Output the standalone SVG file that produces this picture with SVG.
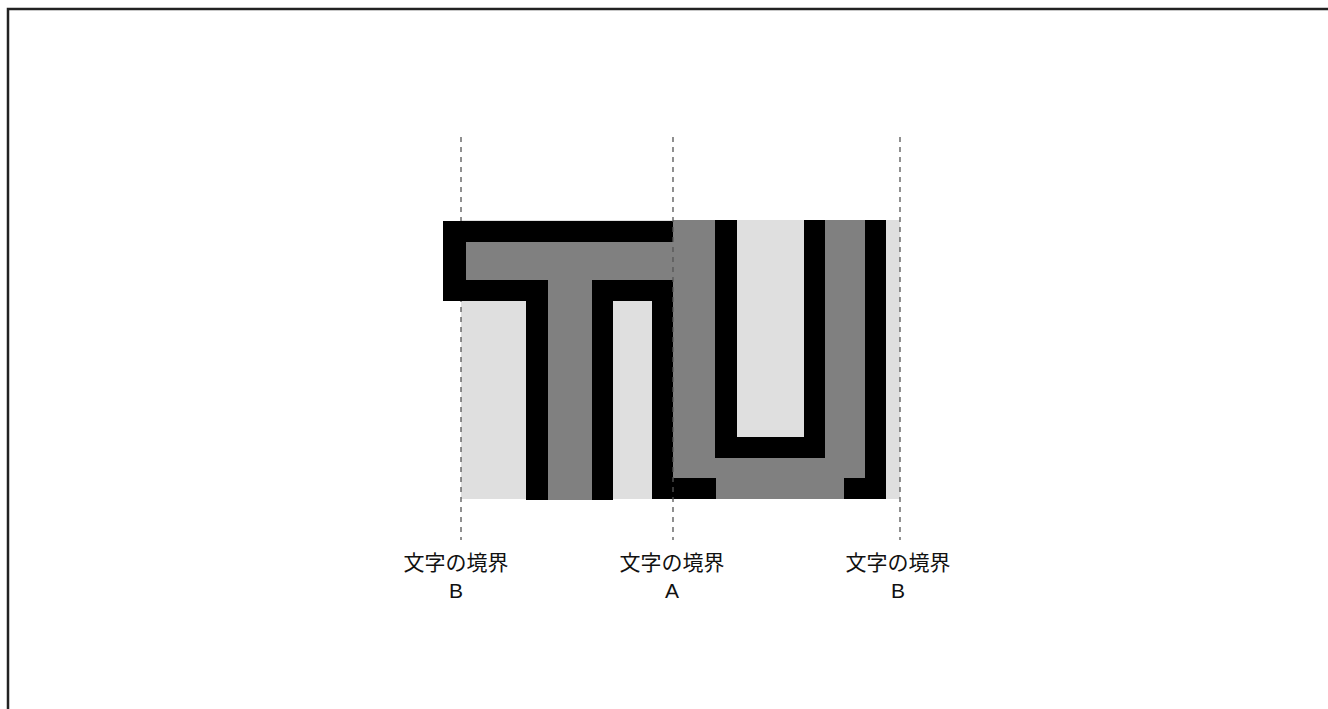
<svg xmlns="http://www.w3.org/2000/svg" width="1328" height="709" viewBox="0 0 1328 709">
<style>
.k{fill:#000}
.g{fill:#808080}
.l{fill:#dfdfdf}
.d{stroke:#555;stroke-width:1.3;stroke-dasharray:5 5;fill:none}
.t{font-family:"Liberation Sans","Noto Sans CJK JP",sans-serif;font-size:21px;fill:#111;text-anchor:middle}
</style>
<rect x="0" y="0" width="1328" height="709" fill="#fff"/>
<rect x="8" y="9" width="1340" height="720" fill="none" stroke="#222" stroke-width="2.5"/>
<g id="background">
<rect class="l" x="461" y="220" width="439" height="279"/>
</g>
<g id="connectors">
<line class="d" x1="461" y1="137" x2="461" y2="540"/>
<line class="d" x1="900" y1="137" x2="900" y2="540"/>
</g>
<g id="glyph-T">
<rect class="k" x="443" y="221" width="230" height="80"/>
<rect class="k" x="526" y="280" width="87" height="220"/>
<rect class="k" x="652" y="280" width="21" height="219"/>
<rect class="g" x="466" y="242" width="207" height="38"/>
<rect class="g" x="548" y="280" width="44" height="220"/>
<rect class="l" x="613" y="301" width="39" height="198"/>
</g>
<g id="glyph-U">
<rect class="g" x="673" y="220" width="192" height="258"/>
<rect class="g" x="716" y="478" width="128" height="21"/>
<rect class="k" x="715" y="220" width="110" height="238"/>
<rect class="l" x="737" y="220" width="67" height="217"/>
<rect class="k" x="865" y="220" width="21" height="279"/>
<rect class="k" x="844" y="478" width="42" height="21"/>
<rect class="k" x="652" y="478" width="64" height="21"/>
</g>
<g id="connector-A">
<line class="d" x1="673" y1="137" x2="673" y2="540"/>
</g>
<g id="label-B-left">
<text class="t" x="456" y="570">文字の境界</text>
<text class="t" x="456" y="598">B</text>
</g>
<g id="label-A">
<text class="t" x="672" y="570">文字の境界</text>
<text class="t" x="672" y="598">A</text>
</g>
<g id="label-B-right">
<text class="t" x="898" y="570">文字の境界</text>
<text class="t" x="898" y="598">B</text>
</g>
</svg>
